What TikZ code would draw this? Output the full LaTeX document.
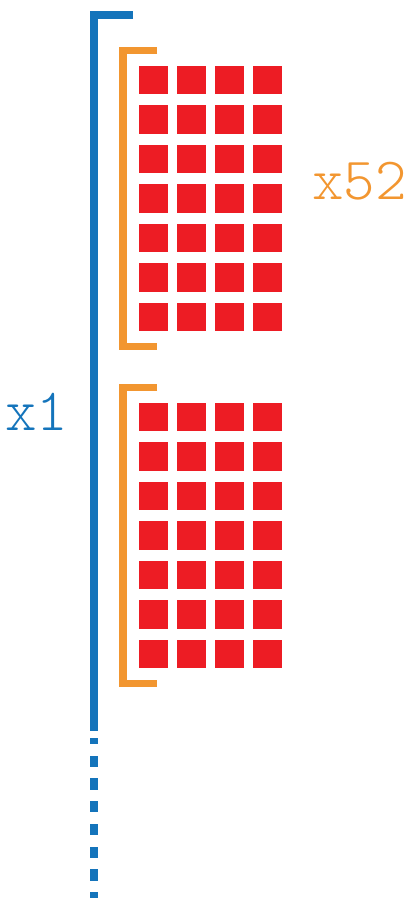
\documentclass[tikz,border=0pt]{standalone}
\usepackage{fontspec}
\newfontfamily\lmlight{Latin Modern Mono Light}
\definecolor{cblue}{HTML}{1474BB}
\definecolor{corange}{HTML}{F29630}
\definecolor{cred}{HTML}{ED1C24}
\begin{document}
\begin{tikzpicture}[x=1pt,y=-1pt,
  bluebar/.style={draw=cblue,line width=8pt,line join=miter},
  orangebar/.style={draw=corange,line width=7.5pt,line join=miter},
  cell/.style={fill=cred},
  label/.style={font=\fontsize{60}{64}\selectfont\lmlight,inner sep=0pt,anchor=base west}]
\useasboundingbox (0,0) rectangle (417,905);
% blue bracket
\draw[bluebar] (133,15) -- (94,15) -- (94,731);
\foreach \a/\b in {738/744,756/767,778/790,801/812,824/835,847/858,869/881,892/898}
  \draw[draw=cblue,line width=8pt] (94,\a) -- (94,\b);
% orange brackets and squares
\foreach \g in {0,337}{
  \draw[orangebar] (157,50.5+\g) -- (123,50.5+\g) -- (123,346.5+\g) -- (157,346.5+\g);
  \foreach \i in {0,...,3}
    \foreach \j in {0,...,6}
      \fill[cell] (139+38*\i,65.5+39.5*\j+\g) rectangle ++(29,28.5);
}
\node[label,text=corange] (n52) at (312,199) {x52};
\node[label,text=cblue] (n1) at (5,430) {x1};
\end{tikzpicture}
\end{document}
